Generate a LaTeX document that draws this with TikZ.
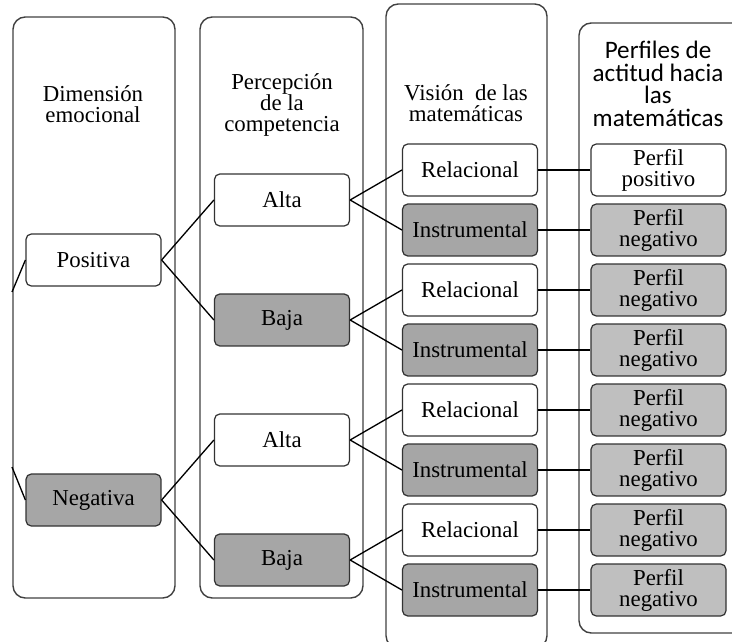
\documentclass[tikz,border=0pt]{standalone}
\usepackage{fontspec}
\setmainfont{Liberation Serif}
\newfontfamily\perfilfont{Carlito}
\usepackage{tikz}
\tikzstyle{every node}=[thick]
\tikzstyle{panel}=[draw=black!75, line width=0.8pt, rounded corners=7pt]
\tikzstyle{box}=[draw=black!80, line width=0.7pt, rounded corners=3pt, minimum width=2.7cm, minimum height=1.04cm, inner sep=0pt, align=center, font=\fontsize{13}{12}\selectfont]
\tikzstyle{dark}=[box, fill={rgb,255:red,166;green,166;blue,166}]
\tikzstyle{light}=[box, fill={rgb,255:red,191;green,191;blue,191}]
\tikzstyle{head}=[align=center, font=\fontsize{13}{12}\selectfont]
\tikzstyle{link}=[draw=black, line width=0.75pt]

\begin{document}
\begin{tikzpicture}[x=0.02cm,y=-0.02cm]
\useasboundingbox (0,0) rectangle (732,641);
\clip (0,0) rectangle (732,641);

% columnas
\draw[panel] (13,17) rectangle (175,598);
\draw[panel] (200,17) rectangle (363,598);
\draw[panel] (386,4) rectangle (547,648);
\draw[panel] (579,23) rectangle (745,633);

\node[head] (h1) at (93,104) {Dimensión\\emocional};
\node[head] (h2) at (282,105) {Percepción\\de la\\competencia};
\node[head] (h3) at (466,103) {Visión\ \ de las\\matemáticas};
\node[head, font=\perfilfont\fontsize{14.3}{12.8}\selectfont] (h4) at (658,84) {Perfiles de\\actitud hacia\\las\\matemáticas};

% dimension emocional
\node[box] (pos) at (93.5,260) {Positiva};
\node[dark] (neg) at (93.5,500) {Negativa};
\coordinate (e1) at (12,292);
\coordinate (e2) at (12,467);
\draw[link] (pos.west) -- (e1);
\draw[link] (neg.west) -- (e2);

% percepcion
\node[box] (alta1) at (282,200) {Alta};
\node[dark] (baja1) at (282,320) {Baja};
\node[box] (alta2) at (282,440) {Alta};
\node[dark] (baja2) at (282,560) {Baja};

% vision
\node[box] (rel1) at (470,170) {Relacional};
\node[dark] (ins1) at (470,230) {Instrumental};
\node[box] (rel2) at (470,290) {Relacional};
\node[dark] (ins2) at (470,350) {Instrumental};
\node[box] (rel3) at (470,410) {Relacional};
\node[dark] (ins3) at (470,470) {Instrumental};
\node[box] (rel4) at (470,530) {Relacional};
\node[dark] (ins4) at (470,590) {Instrumental};

% perfiles
\node[box] (p1) at (658.5,170) {Perfil\\positivo};
\node[light] (p2) at (658.5,230) {Perfil\\negativo};
\node[light] (p3) at (658.5,290) {Perfil\\negativo};
\node[light] (p4) at (658.5,350) {Perfil\\negativo};
\node[light] (p5) at (658.5,410) {Perfil\\negativo};
\node[light] (p6) at (658.5,470) {Perfil\\negativo};
\node[light] (p7) at (658.5,530) {Perfil\\negativo};
\node[light] (p8) at (658.5,590) {Perfil\\negativo};

\draw[link] (pos.east) -- (alta1.west);
\draw[link] (pos.east) -- (baja1.west);
\draw[link] (neg.east) -- (alta2.west);
\draw[link] (neg.east) -- (baja2.west);

\draw[link] (alta1.east) -- (rel1.west);
\draw[link] (alta1.east) -- (ins1.west);
\draw[link] (baja1.east) -- (rel2.west);
\draw[link] (baja1.east) -- (ins2.west);
\draw[link] (alta2.east) -- (rel3.west);
\draw[link] (alta2.east) -- (ins3.west);
\draw[link] (baja2.east) -- (rel4.west);
\draw[link] (baja2.east) -- (ins4.west);

\draw[link] (rel1.east) -- (p1.west);
\draw[link] (ins1.east) -- (p2.west);
\draw[link] (rel2.east) -- (p3.west);
\draw[link] (ins2.east) -- (p4.west);
\draw[link] (rel3.east) -- (p5.west);
\draw[link] (ins3.east) -- (p6.west);
\draw[link] (rel4.east) -- (p7.west);
\draw[link] (ins4.east) -- (p8.west);
\end{tikzpicture}
\end{document}
